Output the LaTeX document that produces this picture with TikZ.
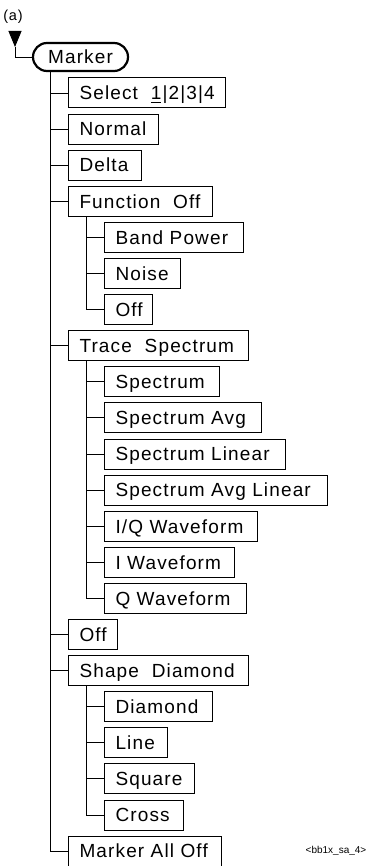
\documentclass[tikz,border=0pt]{standalone}
\usepackage{fontspec}
\setmainfont{Liberation Sans}[LetterSpace=6]
\newfontfamily\plainfont{Liberation Sans}
\usetikzlibrary{arrows.meta}
\newcommand\lbl[2]{\makebox[#1][l]{#2}}
\newcommand\ulone[1]{\setbox0\hbox{#1}\rlap{\rule[-3.5pt]{\wd0}{0.9pt}}#1}
\tikzset{
  menubox/.style={draw, line width=1pt, anchor=west, minimum height=30pt,
    inner xsep=11pt, inner ysep=0pt, text height=13.6pt, text depth=0pt,
    font=\fontsize{19}{22}\selectfont},
  rootbox/.style={draw, line width=2.2pt, rounded corners=14pt, minimum height=28pt,
    inner xsep=14pt, inner ysep=0pt, text height=13.6pt, text depth=0pt,
    font=\fontsize{19}{22}\selectfont, minimum width=95pt},
  link/.style={line width=0.9pt}
}
\begin{document}
\begin{tikzpicture}[x=1pt,y=-1pt]
\useasboundingbox (0,0) rectangle (369,866);
\node[font=\fontsize{14.5}{16}\selectfont, inner sep=0pt] (lab) at (13,16.5) {(a)};
\coordinate (arrtop) at (15,31);
\coordinate (arrtip) at (15,47);
\node[rootbox] (marker) at (80.5,57) {Marker};
\draw[link,-{Triangle[width=13pt,length=16pt]}] (arrtop) -- (arrtip);
\draw[link] (arrtip) |- (marker.west);
\coordinate (t1) at (50,0);
\coordinate (t2) at (86,0);
% level 1
\node[menubox] (sel) at (68,93) {\lbl{135pt}{Select\ \ \ulone{1}|2|3|4}};
\node[menubox] (nor) at (68,129.1) {\lbl{68pt}{Normal}};
\node[menubox] (del) at (68,165.2) {\lbl{51pt}{Delta}};
\node[menubox] (fof) at (68,201.3) {\lbl{122pt}{Function\ \ Off}};
\node[menubox] (trs) at (68,345.7) {\lbl{158pt}{Trace\ \ Spectrum}};
\node[menubox] (off) at (68,634.5) {\lbl{27pt}{Off}};
\node[menubox] (shd) at (68,670.6) {\lbl{158pt}{Shape\ \ Diamond}};
\node[menubox] (mao) at (68,851.1) {\lbl{131pt}{Marker All Off}};
% level 2
\node[menubox] (bp) at (104,237.4) {\lbl{117pt}{Band Power}};
\node[menubox] (noi) at (104,273.5) {\lbl{54pt}{Noise}};
\node[menubox] (foff) at (104,309.6) {\lbl{26pt}{Off}};
\node[menubox] (sp) at (104,381.8) {\lbl{93pt}{Spectrum}};
\node[menubox] (spa) at (104,417.9) {\lbl{135pt}{Spectrum Avg}};
\node[menubox] (spl) at (104,454) {\lbl{159pt}{Spectrum Linear}};
\node[menubox] (spal) at (104,490.1) {\lbl{201pt}{Spectrum Avg Linear}};
\node[menubox] (iq) at (104,526.2) {\lbl{131pt}{I/Q Waveform}};
\node[menubox] (iw) at (104,562.3) {\lbl{108pt}{I Waveform}};
\node[menubox] (qw) at (104,598.4) {\lbl{120pt}{Q Waveform}};
\node[menubox] (dia) at (104,706.7) {\lbl{86pt}{Diamond}};
\node[menubox] (lin) at (104,742.8) {\lbl{41pt}{Line}};
\node[menubox] (squ) at (104,778.9) {\lbl{68pt}{Square}};
\node[menubox] (cro) at (104,815) {\lbl{57pt}{Cross}};
% trunks
\draw[link] (marker.south -| t1) |- (mao.west);
\foreach \n in {sel,nor,del,fof,trs,off,shd}
  \draw[link] (\n.west -| t1) -- (\n.west);
\draw[link] (fof.south -| t2) |- (foff.west);
\foreach \n in {bp,noi}
  \draw[link] (\n.west -| t2) -- (\n.west);
\draw[link] (trs.south -| t2) |- (qw.west);
\foreach \n in {sp,spa,spl,spal,iq,iw}
  \draw[link] (\n.west -| t2) -- (\n.west);
\draw[link] (shd.south -| t2) |- (cro.west);
\foreach \n in {dia,lin,squ}
  \draw[link] (\n.west -| t2) -- (\n.west);
\node[font=\plainfont\fontsize{10}{12}\selectfont, inner sep=0pt] (code) at (336,851) {<bb1x\_sa\_4>};
\end{tikzpicture}
\end{document}
